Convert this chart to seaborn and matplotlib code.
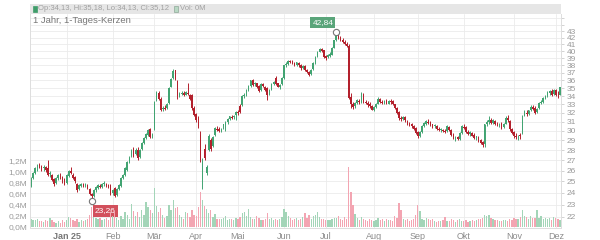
import numpy as np
import pandas as pd
import matplotlib
matplotlib.use("Agg")
import matplotlib.pyplot as plt
import seaborn as sns
from matplotlib.patches import Rectangle
from matplotlib.ticker import FixedLocator, FixedFormatter, NullLocator

# ---------------- data ----------------
OPEN = [24.6, 25.3, 25.8, 26.2, 26.5, 26.3, 26.2, 26.3, 26.2, 25.7,
        25.6, 25.2, 24.9, 25.3, 25.5, 25.4, 25.2, 24.9, 25.5, 26.0,
        25.6, 25.4, 24.8, 24.3, 24.6, 24.8, 24.6, 24.7, 24.3, 23.9,
        23.7, 24.2, 24.4, 24.6, 24.5, 24.8, 24.8, 24.7, 24.7, 24.0,
        24.4, 23.8, 24.3, 24.6, 25.3, 25.6, 26.1, 26.9, 27.4, 28.1,
        27.6, 28.0, 27.3, 28.1, 28.7, 29.2, 29.6, 30.2, 29.4, 30.2,
        33.5, 34.4, 33.7, 32.5, 32.6, 32.6, 33.2, 35.2, 36.3, 37.3,
        35.9, 34.1, 34.3, 34.4, 34.2, 34.4, 34.2, 34.2, 32.6, 31.9,
        31.3, 29.6, 25.2, 28.1, 25.8, 28.0, 29.0, 28.4, 29.6, 30.2,
        30.2, 30.0, 30.3, 30.6, 31.0, 31.3, 31.5, 31.5, 31.8, 32.1,
        32.8, 32.9, 34.0, 34.2, 34.8, 35.3, 36.0, 35.5, 35.6, 35.3,
        34.8, 35.5, 35.2, 35.0, 34.3, 34.9, 35.5, 36.3, 35.6, 35.2,
        35.5, 36.3, 38.0, 38.2, 38.6, 38.6, 38.3, 38.1, 38.3, 38.1,
        37.6, 37.9, 37.3, 37.1, 36.8, 37.5, 38.3, 39.2, 39.9, 40.3,
        40.1, 39.3, 39.1, 39.3, 39.5, 40.5, 41.6, 42.4, 42.0, 41.7,
        41.4, 41.1, 40.8, 33.9, 33.1, 32.8, 33.2, 33.4, 33.3, 34.2,
        33.3, 33.2, 33.0, 32.8, 32.4, 32.7, 33.1, 33.6, 33.3, 33.2,
        33.4, 33.1, 33.4, 33.4, 33.0, 32.6, 32.1, 31.4, 31.3, 31.5,
        31.1, 30.8, 30.7, 30.5, 30.3, 29.9, 29.4, 29.9, 30.5, 30.8,
        31.0, 31.0, 30.7, 30.5, 30.5, 30.2, 30.1, 30.1, 30.0, 30.0,
        30.4, 30.1, 29.6, 29.2, 29.3, 29.1, 29.8, 30.4, 30.4, 29.9,
        29.7, 29.8, 29.6, 29.2, 29.3, 29.0, 28.8, 28.6, 30.7, 31.0,
        31.2, 30.9, 31.1, 30.8, 30.7, 30.8, 30.4, 30.8, 31.4, 31.1,
        30.2, 29.9, 29.5, 29.4, 29.6, 29.8, 31.7, 32.0, 31.9, 32.3,
        32.7, 32.6, 32.1, 32.6, 33.2, 33.3, 33.8, 34.0, 34.4, 34.6,
        34.3, 34.8, 34.2, 34.13]
HIGH = [25.4, 25.9, 26.3, 26.6, 26.7, 26.5, 26.5, 26.4, 27.0, 26.0,
        25.7, 25.3, 25.4, 25.7, 25.8, 25.5, 25.3, 25.7, 26.1, 26.3,
        25.8, 25.5, 24.9, 24.8, 24.9, 24.9, 24.9, 24.8, 24.4, 24.0,
        24.3, 24.6, 24.8, 24.8, 24.9, 25.0, 24.9, 24.8, 24.8, 24.3,
        24.5, 24.4, 24.8, 25.4, 25.7, 26.3, 26.9, 27.4, 28.1, 28.3,
        28.2, 28.3, 28.1, 28.8, 29.3, 29.8, 30.2, 30.3, 29.8, 33.4,
        34.7, 34.6, 33.9, 32.8, 32.9, 33.2, 35.1, 36.3, 37.5, 37.4,
        36.0, 34.5, 34.6, 34.6, 34.6, 35.6, 34.3, 34.3, 32.8, 32.0,
        31.6, 30.0, 27.2, 28.6, 26.5, 29.7, 29.2, 29.4, 30.4, 30.5,
        30.4, 30.3, 30.8, 31.1, 31.4, 31.7, 31.8, 31.8, 32.2, 32.3,
        33.0, 34.1, 34.4, 34.9, 35.4, 36.1, 36.2, 35.8, 35.7, 35.4,
        35.6, 35.7, 35.3, 35.1, 34.9, 35.6, 35.9, 36.5, 35.7, 35.5,
        36.4, 38.1, 38.4, 38.8, 38.8, 38.7, 38.5, 38.5, 38.4, 38.2,
        38.0, 38.0, 37.5, 37.2, 37.5, 38.4, 39.3, 40.0, 40.5, 40.4,
        40.2, 39.5, 39.6, 39.8, 40.6, 41.7, 42.84, 42.6, 42.2, 41.9,
        41.6, 41.3, 41.0, 34.4, 33.3, 33.3, 33.6, 33.6, 34.5, 34.4,
        33.5, 33.4, 33.3, 32.9, 32.8, 33.2, 33.9, 33.8, 33.5, 33.5,
        33.6, 33.5, 33.6, 33.5, 33.1, 32.7, 32.2, 31.6, 31.7, 31.6,
        31.2, 31.0, 30.9, 30.6, 30.4, 30.0, 30.0, 30.6, 31.0, 31.2,
        31.3, 31.1, 30.8, 30.7, 30.6, 30.4, 30.3, 30.2, 30.2, 30.6,
        30.5, 30.2, 29.8, 29.4, 29.5, 29.9, 30.6, 30.7, 30.5, 30.1,
        30.0, 29.9, 29.8, 29.5, 29.4, 29.1, 28.9, 30.8, 31.2, 31.7,
        31.4, 31.3, 31.2, 31.0, 30.9, 31.0, 30.9, 31.6, 31.8, 31.2,
        30.3, 30.0, 29.8, 29.6, 29.8, 31.8, 32.3, 32.3, 32.4, 32.9,
        32.9, 32.8, 32.6, 33.3, 33.5, 33.9, 34.1, 34.6, 34.8, 34.9,
        34.9, 34.9, 34.6, 35.18]
LOW = [24.5, 25.2, 25.7, 26.0, 26.2, 26.0, 26.0, 25.9, 25.5, 25.4,
       25.0, 24.6, 24.8, 25.1, 25.2, 24.9, 24.7, 24.8, 25.4, 25.7,
       25.2, 24.9, 24.1, 24.2, 24.5, 24.5, 24.5, 24.3, 23.8, 23.26,
       23.6, 24.1, 24.3, 24.4, 24.4, 24.6, 24.5, 24.4, 23.8, 23.8,
       23.6, 23.7, 24.2, 24.5, 25.2, 25.5, 26.0, 26.7, 27.3, 27.3,
       27.5, 27.0, 27.2, 28.0, 28.6, 29.1, 29.5, 29.2, 29.2, 30.1,
       33.4, 33.5, 32.2, 32.2, 32.3, 32.5, 33.1, 35.1, 36.2, 36.0,
       33.6, 33.9, 34.1, 34.0, 34.1, 34.2, 33.5, 32.4, 31.6, 31.0,
       30.3, 26.8, 24.3, 27.0, 25.6, 27.9, 27.9, 28.3, 29.5, 30.0,
       29.9, 29.9, 30.2, 30.0, 30.8, 31.2, 31.3, 31.3, 31.2, 31.8,
       32.0, 32.8, 33.8, 34.0, 34.7, 35.2, 35.3, 35.3, 35.0, 34.5,
       34.7, 35.2, 34.6, 33.5, 34.2, 34.8, 35.4, 35.4, 35.1, 34.9,
       35.4, 36.2, 37.8, 38.1, 38.3, 38.2, 37.9, 37.9, 37.8, 37.4,
       37.5, 37.2, 36.9, 36.5, 36.7, 37.4, 38.2, 39.1, 39.8, 39.8,
       39.0, 38.8, 39.0, 39.1, 39.4, 40.4, 41.5, 41.8, 41.5, 41.2,
       40.9, 40.6, 33.6, 32.6, 32.5, 32.6, 33.0, 33.1, 33.2, 33.2,
       33.0, 32.7, 32.6, 32.3, 32.2, 32.6, 33.0, 33.2, 33.0, 33.1,
       33.0, 33.0, 33.1, 32.9, 32.5, 31.9, 31.2, 31.1, 31.2, 31.0,
       30.6, 30.5, 30.3, 30.1, 29.7, 29.2, 29.3, 29.8, 30.4, 30.6,
       30.8, 30.5, 30.3, 30.3, 30.1, 30.0, 29.9, 29.9, 29.8, 29.9,
       30.0, 29.5, 29.1, 28.9, 29.0, 29.0, 29.7, 30.2, 29.8, 29.6,
       29.5, 29.4, 29.1, 29.0, 28.8, 28.6, 28.3, 28.3, 30.5, 30.8,
       30.8, 30.7, 30.6, 30.5, 30.4, 30.2, 30.3, 30.7, 31.0, 30.0,
       29.7, 29.2, 29.1, 29.0, 29.1, 29.7, 31.6, 31.7, 31.8, 32.2,
       32.3, 31.9, 32.0, 32.5, 33.0, 33.2, 33.6, 33.9, 34.2, 34.0,
       34.2, 34.0, 33.8, 34.13]
CLOSE = [25.3, 25.8, 26.2, 26.5, 26.4, 26.2, 26.3, 26.1, 25.6, 25.8,
         25.1, 24.8, 25.3, 25.6, 25.4, 25.0, 24.8, 25.6, 26.0, 25.8,
         25.3, 25.0, 24.2, 24.7, 24.8, 24.6, 24.8, 24.4, 23.9, 23.7,
         24.2, 24.5, 24.7, 24.5, 24.8, 24.9, 24.6, 24.5, 23.9, 24.2,
         23.7, 24.3, 24.7, 25.3, 25.6, 26.2, 26.8, 27.2, 28.0, 27.4,
         28.0, 27.2, 28.0, 28.7, 29.2, 29.7, 30.1, 29.3, 29.6, 33.3,
         34.5, 33.6, 32.4, 32.6, 32.5, 33.0, 35.0, 36.2, 37.2, 36.2,
         34.0, 34.3, 34.4, 34.2, 34.5, 34.3, 33.7, 32.6, 31.8, 31.2,
         30.5, 27.0, 26.9, 27.2, 26.3, 29.5, 28.1, 29.3, 30.3, 30.1,
         30.0, 30.2, 30.7, 31.0, 31.3, 31.6, 31.4, 31.7, 32.1, 32.0,
         32.1, 34.0, 34.2, 34.8, 35.3, 36.0, 35.4, 35.6, 35.2, 34.6,
         35.5, 35.3, 34.8, 34.2, 34.8, 35.5, 35.8, 35.5, 35.2, 35.4,
         36.3, 38.0, 38.2, 38.6, 38.5, 38.3, 38.1, 38.4, 38.0, 37.6,
         37.9, 37.3, 37.1, 36.7, 37.4, 38.3, 39.2, 39.9, 40.3, 40.0,
         39.2, 39.0, 39.4, 39.6, 40.5, 41.6, 42.4, 42.0, 41.7, 41.4,
         41.1, 40.8, 33.8, 33.1, 32.7, 33.2, 33.5, 33.3, 34.3, 33.4,
         33.2, 32.9, 32.8, 32.4, 32.7, 33.1, 33.7, 33.3, 33.2, 33.4,
         33.1, 33.4, 33.3, 33.0, 32.6, 32.0, 31.4, 31.3, 31.5, 31.2,
         30.8, 30.7, 30.5, 30.2, 29.8, 29.4, 29.9, 30.5, 30.9, 31.1,
         30.9, 30.6, 30.4, 30.6, 30.2, 30.1, 30.2, 30.0, 29.9, 30.5,
         30.1, 29.6, 29.2, 29.3, 29.1, 29.8, 30.5, 30.3, 29.9, 29.7,
         29.9, 29.5, 29.2, 29.4, 28.9, 28.7, 28.5, 30.7, 31.0, 31.2,
         30.9, 31.2, 30.8, 30.7, 30.8, 30.3, 30.8, 31.4, 31.2, 30.2,
         29.8, 29.4, 29.3, 29.5, 29.4, 31.6, 32.1, 31.9, 32.3, 32.7,
         32.5, 32.0, 32.5, 33.2, 33.3, 33.8, 34.0, 34.4, 34.6, 34.2,
         34.8, 34.1, 34.1, 35.12]
VOLUME_M = [0.15, 0.13, 0.12, 0.14, 0.10, 0.11, 0.09, 0.12, 0.10, 0.16,
            0.12, 0.09, 0.08, 0.10, 0.07, 0.12, 0.09, 0.13, 0.18, 0.17,
            0.12, 0.10, 0.14, 0.09, 0.12, 0.10, 0.13, 0.15, 0.22, 0.36,
            0.18, 0.16, 0.14, 0.17, 0.12, 0.15, 0.16, 0.12, 0.27, 0.20,
            0.28, 0.17, 0.12, 0.20, 0.15, 0.27, 0.22, 0.14, 0.42, 0.28,
            0.19, 0.27, 0.18, 0.30, 0.22, 0.45, 0.35, 0.30, 0.25, 0.70,
            0.38, 0.27, 0.34, 0.22, 0.17, 0.20, 0.40, 0.30, 0.48, 0.34,
            0.36, 0.22, 0.18, 0.15, 0.27, 0.25, 0.18, 0.30, 0.22, 0.20,
            0.36, 0.62, 0.48, 0.38, 0.33, 0.25, 0.30, 0.18, 0.24, 0.15,
            0.14, 0.15, 0.17, 0.20, 0.13, 0.14, 0.15, 0.13, 0.16, 0.14,
            0.18, 0.25, 0.27, 0.20, 0.33, 0.18, 0.15, 0.14, 0.20, 0.16,
            0.12, 0.13, 0.15, 0.25, 0.14, 0.16, 0.13, 0.15, 0.12, 0.14,
            0.18, 0.32, 0.26, 0.20, 0.16, 0.12, 0.14, 0.17, 0.13, 0.15,
            0.18, 0.25, 0.16, 0.22, 0.15, 0.20, 0.21, 0.27, 0.18, 0.14,
            0.15, 0.13, 0.12, 0.13, 0.15, 0.16, 0.17, 0.20, 0.15, 0.13,
            0.18, 0.15, 1.08, 0.63, 0.40, 0.24, 0.16, 0.13, 0.18, 0.15,
            0.12, 0.10, 0.14, 0.12, 0.10, 0.13, 0.16, 0.12, 0.14, 0.11,
            0.15, 0.12, 0.13, 0.11, 0.20, 0.16, 0.43, 0.30, 0.14, 0.12,
            0.15, 0.11, 0.13, 0.14, 0.22, 0.40, 0.28, 0.15, 0.12, 0.16,
            0.14, 0.12, 0.15, 0.10, 0.09, 0.11, 0.10, 0.12, 0.18, 0.11,
            0.10, 0.14, 0.12, 0.09, 0.13, 0.15, 0.11, 0.10, 0.12, 0.09,
            0.11, 0.13, 0.10, 0.12, 0.14, 0.15, 0.17, 0.22, 0.20, 0.21,
            0.16, 0.14, 0.12, 0.13, 0.10, 0.11, 0.12, 0.13, 0.10, 0.14,
            0.12, 0.16, 0.15, 0.14, 0.18, 0.30, 0.20, 0.18, 0.15, 0.20,
            0.17, 0.16, 0.30, 0.16, 0.20, 0.14, 0.17, 0.15, 0.16, 0.13,
            0.18, 0.16, 0.15, 0.13]

MONTH_LABELS = ["Jan 25", "Feb", "Mär", "Apr", "Mai", "Jun", "Jul",
                "Aug", "Sep", "Okt", "Nov", "Dez"]
MONTH_IDX = [17, 39, 59, 79, 99, 121, 141, 164, 185, 207, 231, 251]
PRICE_GRID = list(range(22, 46))
PRICE_LABELED = list(range(22, 44))
VOL_TICKS = [0.0, 0.2, 0.4, 0.6, 0.8, 1.0, 1.2]
HIGH_IDX, HIGH_TXT = 146, "42,84"
LOW_IDX, LOW_TXT = 29, "23,26"
TITLE = "1 Jahr, 1-Tages-Kerzen"
HEADER_OHLC = "Op:34,13, Hi:35,18, Lo:34,13, Cl:35,12"
HEADER_VOL = "Vol: 0M"

# ---------------- styling ----------------
sns.set_theme(style="white")
plt.rcParams['font.family'] = ['Liberation Sans', 'DejaVu Sans']

UP, DOWN = "#42a472", "#b3202c"
VUP, VDOWN = "#a3d5b8", "#f3a5b2"
GRID = "#ebebeb"
TXT = "#9a9a9a"

df = pd.DataFrame({"idx": np.arange(len(CLOSE)), "open": OPEN, "high": HIGH,
                   "low": LOW, "close": CLOSE, "vol": VOLUME_M})
df["dir"] = np.where(df["close"] >= df["open"], "up", "down")

W, H = 600, 240
fig = plt.figure(figsize=(6, 2.4), dpi=100)
ax = fig.add_axes([30 / W, 12 / H, 531 / W, 214 / H])
axv = ax.twinx()

# volume bars (seaborn, categorical positions 0..n-1)
sns.barplot(data=df, x="idx", y="vol", hue="dir", hue_order=["up", "down"],
            palette={"up": VUP, "down": VDOWN}, dodge=False,
            width=0.62, errorbar=None, legend=False, saturation=1,
            linewidth=0, ax=axv)

# candles
colors = np.where(df["dir"] == "up", UP, DOWN)
ax.vlines(df["idx"], df["low"], df["high"], colors=colors, lw=0.7, zorder=3)
body_lo = np.minimum(df["open"], df["close"])
body_h = np.maximum(np.abs(df["close"] - df["open"]), 0.06)
ax.bar(df["idx"], body_h, bottom=body_lo, width=0.75, color=colors,
       linewidth=0, zorder=4)

# scales
ax.set_yscale("log")
ax.set_ylim(21.14, 45.72)
ax.yaxis.set_major_locator(FixedLocator(PRICE_GRID))
ax.yaxis.set_major_formatter(FixedFormatter(
    [str(v) if v in PRICE_LABELED else "" for v in PRICE_GRID]))
ax.yaxis.set_minor_locator(NullLocator())
ax.yaxis.tick_right()
ax.tick_params(axis="y", which="major", length=2, width=0.6, color="#cccccc",
               pad=2, labelsize=6, labelcolor=TXT)

ax.set_xlim(-0.5, len(CLOSE) - 0.5)
ax.xaxis.set_major_locator(FixedLocator(MONTH_IDX))
ax.xaxis.set_major_formatter(FixedFormatter(MONTH_LABELS))
ax.tick_params(axis="x", length=0, pad=3, labelsize=6.5, labelcolor="#8c8c8c")
for lab in ax.get_xticklabels():
    if lab.get_text() == "Jan 25":
        lab.set_fontweight("bold")
        lab.set_color("#777777")

ax.grid(True, axis="both", color=GRID, lw=0.6)
ax.set_axisbelow(True)

axv.set_ylim(-0.018, 3.82)
axv.yaxis.tick_left()
axv.yaxis.set_major_locator(FixedLocator(VOL_TICKS))
axv.yaxis.set_major_formatter(FixedFormatter(
    [f"{v:.1f}".replace(".", ",") + "M" for v in VOL_TICKS]))
axv.tick_params(axis="y", length=0, pad=2, labelsize=6, labelcolor=TXT)
axv.set_xlim(-0.5, len(CLOSE) - 0.5)
axv.set_xlabel("")
axv.set_ylabel("")
ax.set_xlabel("")
ax.set_ylabel("")
axv.grid(False)

for a in (ax, axv):
    for s in a.spines.values():
        s.set_color("#dedede")
        s.set_linewidth(0.7)
    a.spines["top"].set_visible(False)

# annotations
ax.plot(HIGH_IDX, HIGH[HIGH_IDX], "o", ms=4.5, mfc="white", mec="#777777",
        mew=0.8, zorder=6)
ax.annotate(HIGH_TXT, (HIGH_IDX, HIGH[HIGH_IDX]), xytext=(-3, 6),
            textcoords="offset pixels", ha="right", va="bottom", fontsize=6,
            color="white", zorder=7,
            bbox=dict(boxstyle="square,pad=0.25", fc="#5aa57a", ec="none"))
ax.plot(LOW_IDX, LOW[LOW_IDX], "o", ms=4.5, mfc="white", mec="#777777",
        mew=0.8, zorder=6)
ax.annotate(LOW_TXT, (LOW_IDX, LOW[LOW_IDX]), xytext=(3, -6),
            textcoords="offset pixels", ha="left", va="top", fontsize=6,
            color="white", zorder=7,
            bbox=dict(boxstyle="square,pad=0.25", fc="#d2505c", ec="none"))

# header bar and title
fig.patches.append(Rectangle((30 / W, 1 - 14 / H), 531 / W, 10 / H,
                             transform=fig.transFigure, fc="#e6e6e6",
                             ec="none", zorder=0))
fig.patches.append(Rectangle((32.5 / W, 1 - 11.5 / H), 4 / W, 5 / H,
                             transform=fig.transFigure, fc="#3f9d6a",
                             ec="#3f9d6a", lw=0.5))
fig.text(38.5 / W, 1 - 9 / H, HEADER_OHLC, fontsize=5.5, color="#a0a0a0",
         ha="left", va="center")
fig.patches.append(Rectangle((173.5 / W, 1 - 11.5 / H), 4 / W, 5 / H,
                             transform=fig.transFigure, fc="#b9d8c4",
                             ec="#8fa898", lw=0.5))
fig.text(179.5 / W, 1 - 9 / H, HEADER_VOL, fontsize=5.5, color="#a0a0a0",
         ha="left", va="center")
fig.text(33 / W, 1 - 20.5 / H, TITLE, fontsize=6.8, color="#777777",
         ha="left", va="center")

fig.savefig("out.png", dpi=100, facecolor="white")
